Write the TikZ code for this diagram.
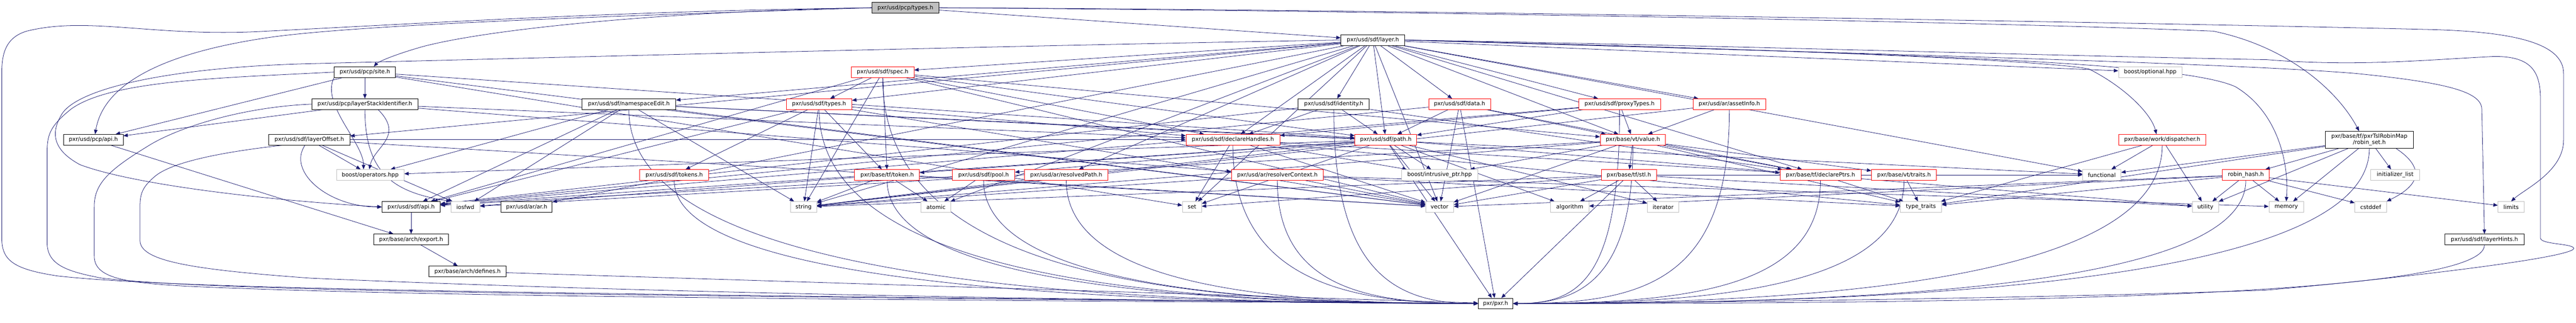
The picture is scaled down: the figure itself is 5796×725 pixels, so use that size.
\documentclass[tikz,border=0pt]{standalone}
\usepackage{fontspec}
\setmainfont{DejaVu Sans}
\usepackage[dvipsnames]{xcolor}
\usepackage{tikz}
\usetikzlibrary{arrows.meta,backgrounds}
\definecolor{doxnavy}{HTML}{191970}
\definecolor{doxgray}{HTML}{BFBFBF}

\tikzset{
  docfile/.style={draw=black, fill=white, line width=1pt, inner sep=0pt,
    minimum height=24pt, font=\fontsize{12.6}{14.3}\selectfont},
  redfile/.style={docfile, draw=red},
  sysfile/.style={docfile, draw=doxgray},
  rootfile/.style={docfile, fill=doxgray},
  dep/.style={doxnavy, line width=0.9pt, -{Triangle[length=10pt,width=8pt]}}
}

\begin{document}
\begin{tikzpicture}[x=1pt,y=1pt]
\useasboundingbox (0,0) rectangle (5796,725);
%
\node[rootfile, minimum width=150pt] (types) at (2037,707.5) {pxr/usd/pcp/types.h};
\node[docfile, minimum width=144pt] (layer) at (3089,635) {pxr/usd/sdf/layer.h};
%
\node[docfile, minimum width=138pt] (site) at (821,563) {pxr/usd/pcp/site.h};
\node[redfile, minimum width=141pt] (spec) at (1986,563) {pxr/usd/sdf/spec.h};
\node[sysfile, minimum width=143pt] (optional) at (4838,563) {boost/optional.hpp};
%
\node[docfile, minimum width=239pt] (lsi) at (821,491) {pxr/usd/pcp/layerStackIdentifier.h};
\node[docfile, minimum width=211pt] (nsedit) at (1415,491) {pxr/usd/sdf/namespaceEdit.h};
\node[redfile, minimum width=147pt] (sdftypes) at (1843,491) {pxr/usd/sdf/types.h};
\node[docfile, minimum width=160pt] (identity) at (3001,491) {pxr/usd/sdf/identity.h};
\node[redfile, minimum width=139pt] (data) at (3284,491) {pxr/usd/sdf/data.h};
\node[redfile, minimum width=184pt] (proxytypes) at (3644,491) {pxr/usd/sdf/proxyTypes.h};
\node[redfile, minimum width=163pt] (assetinfo) at (3891,491) {pxr/usd/ar/assetInfo.h};
%
\node[docfile, minimum width=134pt] (pcpapi) at (210,411) {pxr/usd/pcp/api.h};
\node[docfile, minimum width=183pt] (layeroffset) at (696,411) {pxr/usd/sdf/layerOffset.h};
\node[redfile, minimum width=211pt] (declhandles) at (2774,411) {pxr/usd/sdf/declareHandles.h};
\node[redfile, minimum width=139pt] (path) at (3118,411) {pxr/usd/sdf/path.h};
\node[redfile, minimum width=147pt] (value) at (3674,411) {pxr/base/vt/value.h};
\node[redfile, minimum width=197pt] (dispatcher) at (4865,411) {pxr/base/work/dispatcher.h};
\node[docfile, minimum width=198pt, minimum height=38pt, align=center] (robinset) at (5331,411) {pxr/base/tf/pxrTslRobinMap\\/robin\_set.h};
%
\node[sysfile, minimum width=152pt] (operators) at (833,332) {boost/operators.hpp};
\node[redfile, minimum width=155pt] (tokens) at (1517,332) {pxr/usd/sdf/tokens.h};
\node[redfile, minimum width=146pt] (tftoken) at (1996,332) {pxr/base/tf/token.h};
\node[redfile, minimum width=140pt] (pool) at (2213,332) {pxr/usd/sdf/pool.h};
\node[redfile, minimum width=187pt] (resolvedpath) at (2399,332) {pxr/usd/ar/resolvedPath.h};
\node[redfile, minimum width=207pt] (resolverctx) at (2874,332) {pxr/usd/ar/resolverContext.h};
\node[sysfile, minimum width=171pt] (intrusive) at (3239,332) {boost/intrusive\_ptr.hpp};
\node[redfile, minimum width=124pt] (stl) at (3665,332) {pxr/base/tf/stl.h};
\node[redfile, minimum width=182pt] (declptrs) at (4096,332) {pxr/base/tf/declarePtrs.h};
\node[redfile, minimum width=146pt] (traits) at (4284,332) {pxr/base/vt/traits.h};
\node[sysfile, minimum width=86pt] (functional) at (4729,332) {functional};
\node[redfile, minimum width=106pt] (robinhash) at (5053,332) {robin\_hash.h};
\node[sysfile, minimum width=111pt] (initlist) at (5389,332) {initializer\_list};
%
\node[docfile, minimum width=131pt] (sdfapi) at (925,260) {pxr/usd/sdf/api.h};
\node[sysfile, minimum width=65pt] (iosfwd) at (1047,260) {iosfwd};
\node[docfile, minimum width=115pt] (arar) at (1185,260) {pxr/usd/ar/ar.h};
\node[sysfile, minimum width=59pt] (string) at (1808,260) {string};
\node[sysfile, minimum width=67pt] (atomic) at (2106,260) {atomic};
\node[sysfile, minimum width=43pt] (set) at (2682,260) {set};
\node[sysfile, minimum width=63pt] (vector) at (3239,260) {vector};
\node[sysfile, minimum width=86pt] (algorithm) at (3532,260) {algorithm};
\node[sysfile, minimum width=71pt] (iterator) at (3742,260) {iterator};
\node[sysfile, minimum width=93pt] (typetraits) at (4322,260) {type\_traits};
\node[sysfile, minimum width=59pt] (utility) at (4962,260) {utility};
\node[sysfile, minimum width=78pt] (memory) at (5144,260) {memory};
\node[sysfile, minimum width=71pt] (cstddef) at (5334,260) {cstddef};
\node[sysfile, minimum width=59pt] (limits) at (5650,260) {limits};
%
\node[docfile, minimum width=168pt] (export) at (925,187) {pxr/base/arch/export.h};
\node[docfile, minimum width=178pt] (layerhints) at (5590,187) {pxr/usd/sdf/layerHints.h};
\node[docfile, minimum width=174pt] (defines) at (1052,115) {pxr/base/arch/defines.h};
\node[docfile, minimum width=78pt] (pxrh) at (3365,43) {pxr/pxr.h};
%
\begin{scope}[on background layer]
% pxr/usd/pcp/types.h
\draw[dep] (types) -- (layer);
\draw[dep] (types.west) .. controls (1400,700) and (1000,675) .. (600,655) .. controls (350,640) and (200,690) .. (60,655) .. controls (10,640) and (4,600) .. (4,560) -- (4,190) .. controls (4,140) and (30,120) .. (130,105) .. controls (400,75) and (1200,65) .. (pxrh.west);
\draw[dep] (types.west) .. controls (1400,690) and (800,670) .. (600,640) .. controls (330,600) and (230,520) .. ([xshift=4pt]pcpapi.north);
\draw[dep] (types.west) .. controls (1500,700) and (1100,660) .. (950,620) .. controls (880,600) and (850,585) .. ([xshift=20pt]site.north);
\draw[dep] (types.east) .. controls (3000,705) and (4800,675) .. (5453,659) .. controls (5650,655) and (5768,630) .. (5768,560) -- (5768,410) .. controls (5768,340) and (5680,300) .. (limits.north);
\draw[dep] (types.east) .. controls (3200,700) and (4500,675) .. (4980,655) .. controls (5150,620) and (5260,520) .. ([xshift=-23pt]robinset.north);
% pxr/usd/sdf/layer.h
\draw[dep] (layer) -- (nsedit); \draw[dep] (layer) -- (spec); \draw[dep] (layer) -- (sdftypes);
\draw[dep] (layer) -- (identity); \draw[dep] (layer) -- (data); \draw[dep] (layer) -- (proxytypes);
\draw[dep] (layer) -- (assetinfo); \draw[dep] (layer) -- (declhandles); \draw[dep] (layer) -- (path);
\draw[dep] (layer) -- (value); \draw[dep] (layer) -- (layeroffset); \draw[dep] (layer) -- (resolvedpath);
\draw[dep] (layer) -- (declptrs); \draw[dep] (layer) -- (arar); \draw[dep] (layer) -- (atomic);
\draw[dep] (layer) -- (set); \draw[dep] (layer) -- (string); \draw[dep] (layer) -- (vector);
\draw[dep] (layer) -- (functional); \draw[dep] (layer) -- (optional);
\draw[dep] (layer.west) .. controls (2400,625) and (1400,600) .. (700,582) .. controls (400,575) and (180,530) .. (140,470) .. controls (115,430) and (115,390) .. (180,355) .. controls (300,310) and (600,275) .. (sdfapi.west);
\draw[dep] (layer.east) .. controls (4000,615) and (4600,590) .. (4700,570) .. controls (4780,530) and (4840,470) .. ([xshift=-13pt]dispatcher.north);
\draw[dep] (layer.east) .. controls (4200,605) and (4900,590) .. (5030,530) .. controls (5130,470) and (5150,350) .. (memory.north);
\draw[dep] (layer.east) .. controls (4000,610) and (5000,585) .. (5300,560) .. controls (5500,540) and (5583,520) .. (5584,480) -- (layerhints.north);
\draw[dep] (layer.east) .. controls (3800,625) and (4600,600) .. (5100,591) .. controls (5300,575) and (5450,590) .. (5609,598) .. controls (5700,600) and (5716,560) .. (5716,500) -- (5716,190) .. controls (5716,175) and (5800,178) .. (5790,165) .. controls (5760,140) and (5300,90) .. (5096,73) .. controls (4600,55) and (3800,45) .. (pxrh.east);
% pxr/usd/pcp/site.h
\draw[dep] (site) -- (pcpapi); \draw[dep] (site) -- (lsi); \draw[dep] (site) -- (path);
\draw[dep] (site) -- (set); \draw[dep] (site) -- (vector);
\draw[dep] (site.south west) .. controls +(-30,-60) and +(0,60) .. ([xshift=-15pt]operators.north);
\draw[dep] (site.west) .. controls (500,550) and (250,545) .. (160,480) .. controls (110,440) and (106,420) .. (106,380) -- (106,180) .. controls (106,130) and (150,115) .. (230,100) .. controls (500,70) and (1300,62) .. (pxrh.west);
% pxr/usd/pcp/layerStackIdentifier.h
\draw[dep] (lsi) -- (pcpapi); \draw[dep] (lsi) -- (declhandles); \draw[dep] (lsi) -- (resolverctx);
\draw[dep] ([xshift=30pt]lsi.south) .. controls +(60,-60) and +(10,50) .. ([xshift=-2pt]operators.north);
\draw[dep] (lsi.south) .. controls +(0,-150) and +(-120,20) .. (iosfwd.north west);
\draw[dep] (lsi.west) .. controls (550,485) and (400,440) .. (330,395) .. controls (240,340) and (212,310) .. (212,260) -- (212,150) .. controls (212,100) and (280,90) .. (420,82) .. controls (900,60) and (1800,52) .. (pxrh.west);
% pxr/usd/sdf/layerOffset.h
\draw[dep] (layeroffset) -- (operators); \draw[dep] (layeroffset) -- (declhandles);
\draw[dep] (layeroffset) -- (iosfwd); \draw[dep] (layeroffset) -- (vector);
\draw[dep] ([xshift=-10pt]layeroffset.south) .. controls +(-40,-60) and +(-120,0) .. (sdfapi.west);
\draw[dep] ([xshift=30pt]layeroffset.south west) .. controls (560,390) and (400,370) .. (350,330) .. controls (320,305) and (315,290) .. (315,260) -- (315,185) .. controls (315,140) and (420,120) .. (700,100) .. controls (1500,65) and (2500,50) .. (pxrh.west);
% pxr/usd/sdf/namespaceEdit.h
\draw[dep] (nsedit) -- (sdfapi); \draw[dep] (nsedit) -- (path); \draw[dep] (nsedit) -- (operators);
\draw[dep] (nsedit) -- (iosfwd); \draw[dep] (nsedit) -- (string); \draw[dep] (nsedit) -- (vector);
\draw[dep] (nsedit) -- (functional);
\draw[dep] (nsedit.south) .. controls +(0,-380) and +(-900,0) .. (pxrh.west);
% pxr/usd/sdf/types.h
\draw[dep] (sdftypes) -- (sdfapi); \draw[dep] (sdftypes) -- (declhandles); \draw[dep] (sdftypes) -- (tokens);
\draw[dep] (sdftypes) -- (tftoken); \draw[dep] (sdftypes) -- (string); \draw[dep] (sdftypes) -- (vector);
\draw[dep] (sdftypes.south) .. controls +(0,-380) and +(-700,0) .. (pxrh.west);
% pxr/usd/sdf/spec.h
\draw[dep] (spec) -- (sdfapi); \draw[dep] (spec) -- (declhandles); \draw[dep] (spec) -- (path);
\draw[dep] (spec) -- (sdftypes); \draw[dep] (spec) -- (tftoken); \draw[dep] (spec) -- (value);
\draw[dep] (spec) -- (string); \draw[dep] (spec) -- (vector);
\draw[dep] (spec.south) .. controls +(0,-440) and +(-700,0) .. (pxrh.west);
% pxr/usd/sdf/identity.h
\draw[dep] (identity) -- (sdfapi); \draw[dep] (identity) -- (declhandles);
\draw[dep] (identity) -- (path); \draw[dep] (identity) -- (declptrs);
\draw[dep] (identity.south) .. controls +(0,-350) and +(-200,0) .. (pxrh.west);
% pxr/usd/sdf/data.h
\draw[dep] (data) -- (sdfapi); \draw[dep] (data) -- (path); \draw[dep] (data) -- (value);
\draw[dep] (data) -- (declptrs); \draw[dep] (data) -- (vector); \draw[dep] (data) -- (pxrh);
% pxr/usd/sdf/proxyTypes.h
\draw[dep] (proxytypes) -- (sdfapi); \draw[dep] (proxytypes) -- (declhandles);
\draw[dep] (proxytypes) -- (path); \draw[dep] (proxytypes) -- (value);
\draw[dep] (proxytypes.south) .. controls +(0,-380) and +(150,0) .. (pxrh.east);
% pxr/usd/ar/assetInfo.h
\draw[dep] (assetinfo) -- (value); \draw[dep] (assetinfo) -- (string);
\draw[dep] (assetinfo.south) .. controls +(0,-380) and +(300,0) .. (pxrh.east);
% api and arch
\draw[dep] (pcpapi) -- (export); \draw[dep] (sdfapi) -- (export);
\draw[dep] (export) -- (defines); \draw[dep] (defines) -- (pxrh);
% pxr/usd/sdf/declareHandles.h
\draw[dep] (declhandles) -- (declptrs); \draw[dep] (declhandles) -- (intrusive); \draw[dep] (declhandles) -- (set);
\draw[dep] (declhandles) -- (typetraits); \draw[dep] (declhandles) -- (vector);
\draw[dep] (declhandles.south) .. controls +(0,-300) and +(-300,0) .. (pxrh.west);
% pxr/usd/sdf/path.h
\draw[dep] (path) -- (sdfapi); \draw[dep] (path) -- (pool); \draw[dep] (path) -- (tftoken);
\draw[dep] (path) -- (intrusive); \draw[dep] (path) -- (operators); \draw[dep] (path) -- (set);
\draw[dep] (path) -- (string); \draw[dep] (path) -- (vector); \draw[dep] (path) -- (algorithm);
\draw[dep] (path) -- (iterator); \draw[dep] (path) -- (utility); \draw[dep] (path) -- (pxrh);
% pxr/base/vt/value.h
\draw[dep] (value) -- (intrusive); \draw[dep] (value) -- (stl); \draw[dep] (value) -- (traits);
\draw[dep] (value) -- (declptrs); \draw[dep] (value) -- (typetraits); \draw[dep] (value) -- (iosfwd);
\draw[dep] (value) -- (vector); \draw[dep] (value) -- (string);
\draw[dep] (value.south) .. controls +(0,-300) and +(150,0) .. (pxrh.east);
% pxr/base/work/dispatcher.h
\draw[dep] (dispatcher) -- (functional); \draw[dep] (dispatcher) -- (utility); \draw[dep] (dispatcher) -- (typetraits);
\draw[dep] (dispatcher.south) .. controls +(0,-300) and +(700,0) .. (pxrh.east);
% pxr/base/tf/pxrTslRobinMap/robin_set.h
\draw[dep] (robinset) -- (robinhash); \draw[dep] (robinset) -- (functional); \draw[dep] (robinset) -- (utility);
\draw[dep] (robinset) -- (memory); \draw[dep] (robinset) -- (initlist); \draw[dep] (robinset) -- (typetraits);
\draw[dep] ([xshift=60pt]robinset.south) .. controls +(90,-60) and +(40,20) .. (cstddef.north east);
\draw[dep] (robinset.south) .. controls +(0,-300) and +(900,0) .. (pxrh.east);
% row of truncated headers
\draw[dep] (tokens.south) .. controls +(0,-240) and +(-800,0) .. (pxrh.west);
\draw[dep] (tftoken) -- (atomic); \draw[dep] (tftoken) -- (string); \draw[dep] (tftoken) -- (iosfwd);
\draw[dep] (tftoken) -- (vector);
\draw[dep] (tftoken.south) .. controls +(0,-240) and +(-600,0) .. (pxrh.west);
\draw[dep] (pool) -- (atomic); \draw[dep] (pool) -- (sdfapi);
\draw[dep] (pool.south) .. controls +(0,-240) and +(-500,0) .. (pxrh.west);
\draw[dep] (resolvedpath) -- (string);
\draw[dep] (resolvedpath.south) .. controls +(0,-240) and +(-450,0) .. (pxrh.west);
\draw[dep] (resolverctx) -- (string); \draw[dep] (resolverctx) -- (vector); \draw[dep] (resolverctx) -- (typetraits);
\draw[dep] (resolverctx) -- (memory);
\draw[dep] (resolverctx.south) .. controls +(0,-240) and +(-250,0) .. (pxrh.west);
\draw[dep] (stl) -- (algorithm); \draw[dep] (stl) -- (iterator); \draw[dep] (stl) -- (vector);
\draw[dep] (stl) -- (set); \draw[dep] (stl) -- (string); \draw[dep] (stl) -- (utility);
\draw[dep] (stl) -- (functional); \draw[dep] (stl) -- (pxrh);
\draw[dep] (declptrs) -- (typetraits);
\draw[dep] (declptrs.south) .. controls +(0,-240) and +(400,0) .. (pxrh.east);
\draw[dep] (traits) -- (typetraits);
\draw[dep] (traits.south) .. controls +(0,-240) and +(450,0) .. (pxrh.east);
\draw[dep] (robinhash) -- (typetraits); \draw[dep] (robinhash) -- (algorithm); \draw[dep] (robinhash) -- (vector);
\draw[dep] (robinhash) -- (utility); \draw[dep] (robinhash) -- (memory); \draw[dep] (robinhash) -- (cstddef);
\draw[dep] (robinhash) -- (limits);
\draw[dep] (robinhash.south) .. controls +(0,-240) and +(800,0) .. (pxrh.east);
\draw[dep] (layerhints.south) .. controls +(0,-120) and +(1000,0) .. (pxrh.east);
\end{scope}
\end{tikzpicture}
\end{document}
